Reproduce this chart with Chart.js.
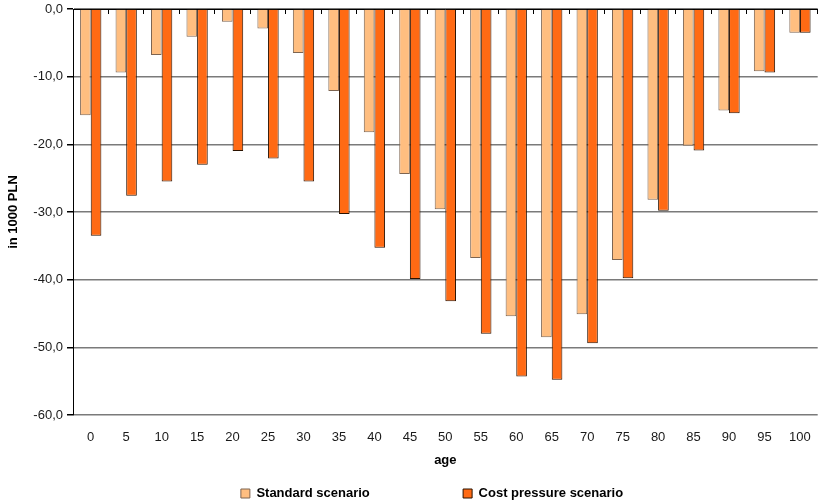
<!DOCTYPE html>
<html>
<head>
<meta charset="utf-8">
<script src="https://cdn.jsdelivr.net/npm/chart.js@4"></script>
<style>
  body { margin: 0; background: #fff; }
  #wrap { width: 826px; height: 501px; }
</style>
</head>
<body>
<div id="wrap"><canvas id="chart" width="826" height="501"></canvas></div>
<script>
// age groups on the x axis
const ages = ['0','5','10','15','20','25','30','35','40','45','50','55','60','65','70','75','80','85','90','95','100'];

// values in 1000 PLN
const standardScenario = [-15.7, -9.4, -6.8, -4.1, -1.9, -2.9, -6.5, -12.1, -18.2, -24.4, -29.6, -36.8, -45.4, -48.5, -45.1, -37.1, -28.2, -20.2, -15.0, -9.2, -3.5];
const costPressureScenario = [-33.5, -27.6, -25.5, -23.0, -21.0, -22.1, -25.5, -30.3, -35.3, -39.9, -43.2, -48.0, -54.3, -54.8, -49.4, -39.8, -29.8, -20.9, -15.4, -9.4, -3.5];

const yMin = -60, yMax = 0, yStep = 10;

const font = '"Liberation Sans", Arial, Helvetica, sans-serif';
Chart.defaults.font.family = font;
Chart.defaults.font.size = 13;
Chart.defaults.color = '#1a1a1a';

// legend sits a bit right of centre in the original
const legendShift = {
  id: 'legendShift',
  afterLayout(chart) {
    chart.legend.left += 17;
    chart.legend.right += 17;
  }
};

const ctx = document.getElementById('chart').getContext('2d');
new Chart(ctx, {
  type: 'bar',
  data: {
    labels: ages,
    datasets: [
      {
        label: 'Standard scenario',
        data: standardScenario,
        backgroundColor: '#ffbe80',
        borderColor: '#7d6450',
        borderWidth: 1,
        categoryPercentage: 0.6,
        barPercentage: 1.0
      },
      {
        label: 'Cost pressure scenario',
        data: costPressureScenario,
        backgroundColor: '#ff6a14',
        borderColor: '#2a1200',
        borderWidth: 1,
        categoryPercentage: 0.6,
        barPercentage: 1.0
      }
    ]
  },
  plugins: [legendShift],
  options: {
    responsive: false,
    animation: false,
    layout: { padding: { top: 1, right: 0, left: 4, bottom: -9 } },
    plugins: {
      legend: {
        position: 'bottom',
        labels: {
          boxWidth: 9,
          boxHeight: 9,
          padding: 3,
          color: '#000',
          font: { weight: 'bold', size: 13 },
          generateLabels: chart => {
            const items = Chart.defaults.plugins.legend.labels.generateLabels(chart);
            // wide gap between the two entries
            items[0].text = items[0].text + ' '.repeat(25);
            return items;
          }
        }
      },
      tooltip: { enabled: false }
    },
    scales: {
      x: {
        position: 'bottom',
        offset: true,
        grid: { display: false, drawTicks: false },
        border: { display: false },
        ticks: { padding: 15, color: '#1a1a1a' },
        title: {
          display: true,
          text: 'age',
          color: '#000',
          font: { weight: 'bold', size: 13 },
          padding: { top: 4, bottom: 16 }
        },
        afterFit: scale => { scale.height = 69; }
      },
      x2: {
        position: 'top',
        type: 'category',
        labels: ages,
        offset: true,
        // tick marks point down into the plot from the zero line
        grid: { drawOnChartArea: false, drawTicks: true, tickLength: -5, color: '#000', offset: true },
        border: { display: true, color: '#000', width: 1 },
        ticks: { display: false },
        afterFit: scale => { scale.height = 8; }
      },
      y: {
        min: yMin,
        max: yMax,
        ticks: {
          stepSize: yStep,
          color: '#1a1a1a',
          padding: 4,
          callback: v => v.toFixed(1).replace('.', ',')
        },
        grid: { color: '#7a7a7a', lineWidth: 1.5, tickLength: 6, tickColor: '#000' },
        border: { display: true, color: '#000', width: 1 },
        title: {
          display: true,
          text: 'in 1000 PLN',
          color: '#000',
          font: { weight: 'bold', size: 13 },
          padding: { top: 2, bottom: 6 }
        },
        afterFit: scale => {
          scale.width = 69;
          scale.paddingTop = 0;
          scale.paddingBottom = 0;
        }
      }
    }
  }
});
</script>
</body>
</html>
